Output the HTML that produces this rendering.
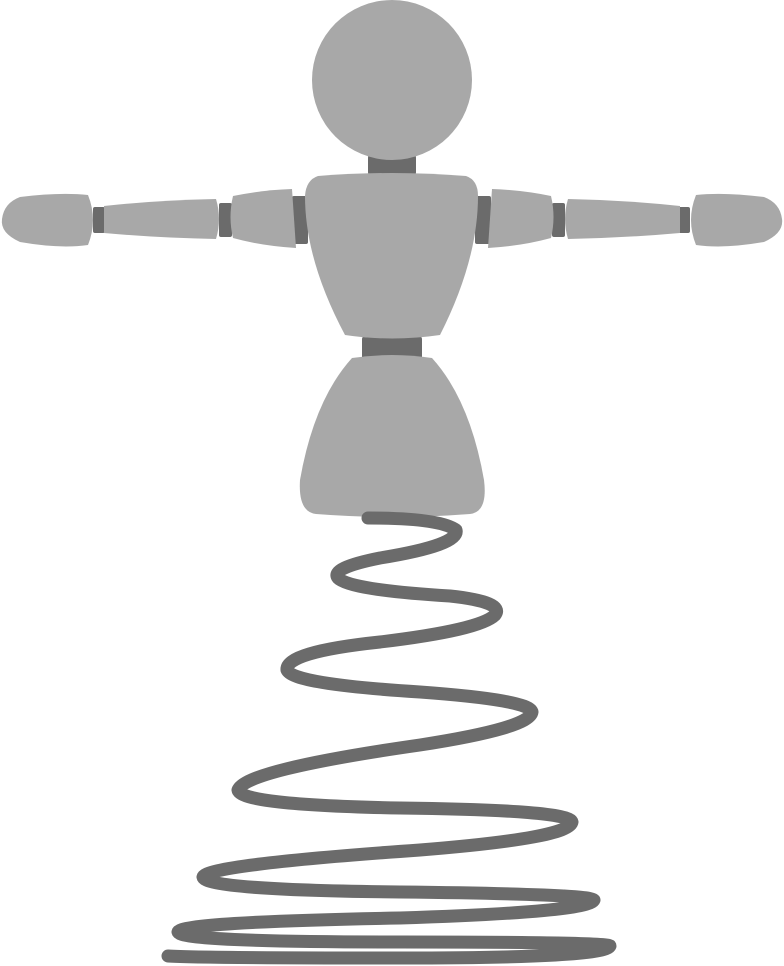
<!DOCTYPE html>
<html><head><meta charset="utf-8"><style>
html,body{margin:0;padding:0;background:#fff;}
svg{display:block;}
</style></head><body>
<svg width="784" height="966" viewBox="0 0 784 966">
  <g fill="#6b6b6b">
    <rect x="368" y="150" width="48" height="30" rx="8"/>
    <rect x="362" y="336" width="60" height="24" rx="3"/>
    <rect x="292" y="196" width="16" height="48" rx="2"/>
    <rect x="219" y="203" width="13" height="34" rx="2"/>
    <rect x="93" y="207" width="12" height="26" rx="2"/>
    <rect x="475" y="196" width="16" height="48" rx="2"/>
    <rect x="552" y="203" width="13" height="34" rx="2"/>
    <rect x="678" y="207" width="12" height="26" rx="2"/>
  </g>
  <g fill="#a8a8a8">
    <circle cx="392" cy="80" r="80"/>
    <path d="M318 176 Q392 170 466 176 Q478 180 478 196 Q478 260 440 335 Q392 342 345 335 Q305 260 305 196 Q306 180 318 176 Z"/>
    <path d="M352 358 Q392 352 432 358 Q470 400 484 480 Q488 512 470 514 Q392 520 316 514 Q298 512 300 480 Q314 400 352 358 Z"/>
    <path d="M233 196 Q262 190 292 189 L296 248 Q262 246 233 238 Q228 217 233 196 Z"/>
    <path d="M104 206 Q160 200 216 199 Q222 219 216 239 Q160 238 104 233 Z"/>
    <path d="M20 197 Q60 192 88 195 Q98 220 88 245 Q60 249 20 242 Q0 233 2 219 Q4 203 20 197 Z"/>
    <path d="M551 196 Q522 190 492 189 L488 248 Q522 246 551 238 Q556 217 551 196 Z"/>
    <path d="M680 206 Q624 200 568 199 Q562 219 568 239 Q624 238 680 233 Z"/>
    <path d="M764 197 Q724 192 696 195 Q686 220 696 245 Q724 249 764 242 Q784 233 782 219 Q780 203 764 197 Z"/>
  </g>
  <path fill="none" stroke="#6b6b6b" stroke-width="13" stroke-linecap="round" stroke-linejoin="round"
    d="M368 518 Q440 518 456 530 Q460 545 380 558 Q330 568 338 578 Q350 590 450 596 Q505 602 495 615
       Q480 630 380 642 Q285 652 287 670 Q292 684 420 692 Q530 700 532 712 Q530 728 420 745
       Q245 770 238 790 Q240 805 400 808 Q570 810 572 822 Q570 838 420 850 Q205 865 203 877
       Q205 890 400 892 Q590 894 594 900 Q590 912 400 918 Q180 922 178 932
       Q180 942 400 942 Q610 942 610 946 Q606 958 400 958 Q200 958 168 956"/>
</svg>
</body></html>
